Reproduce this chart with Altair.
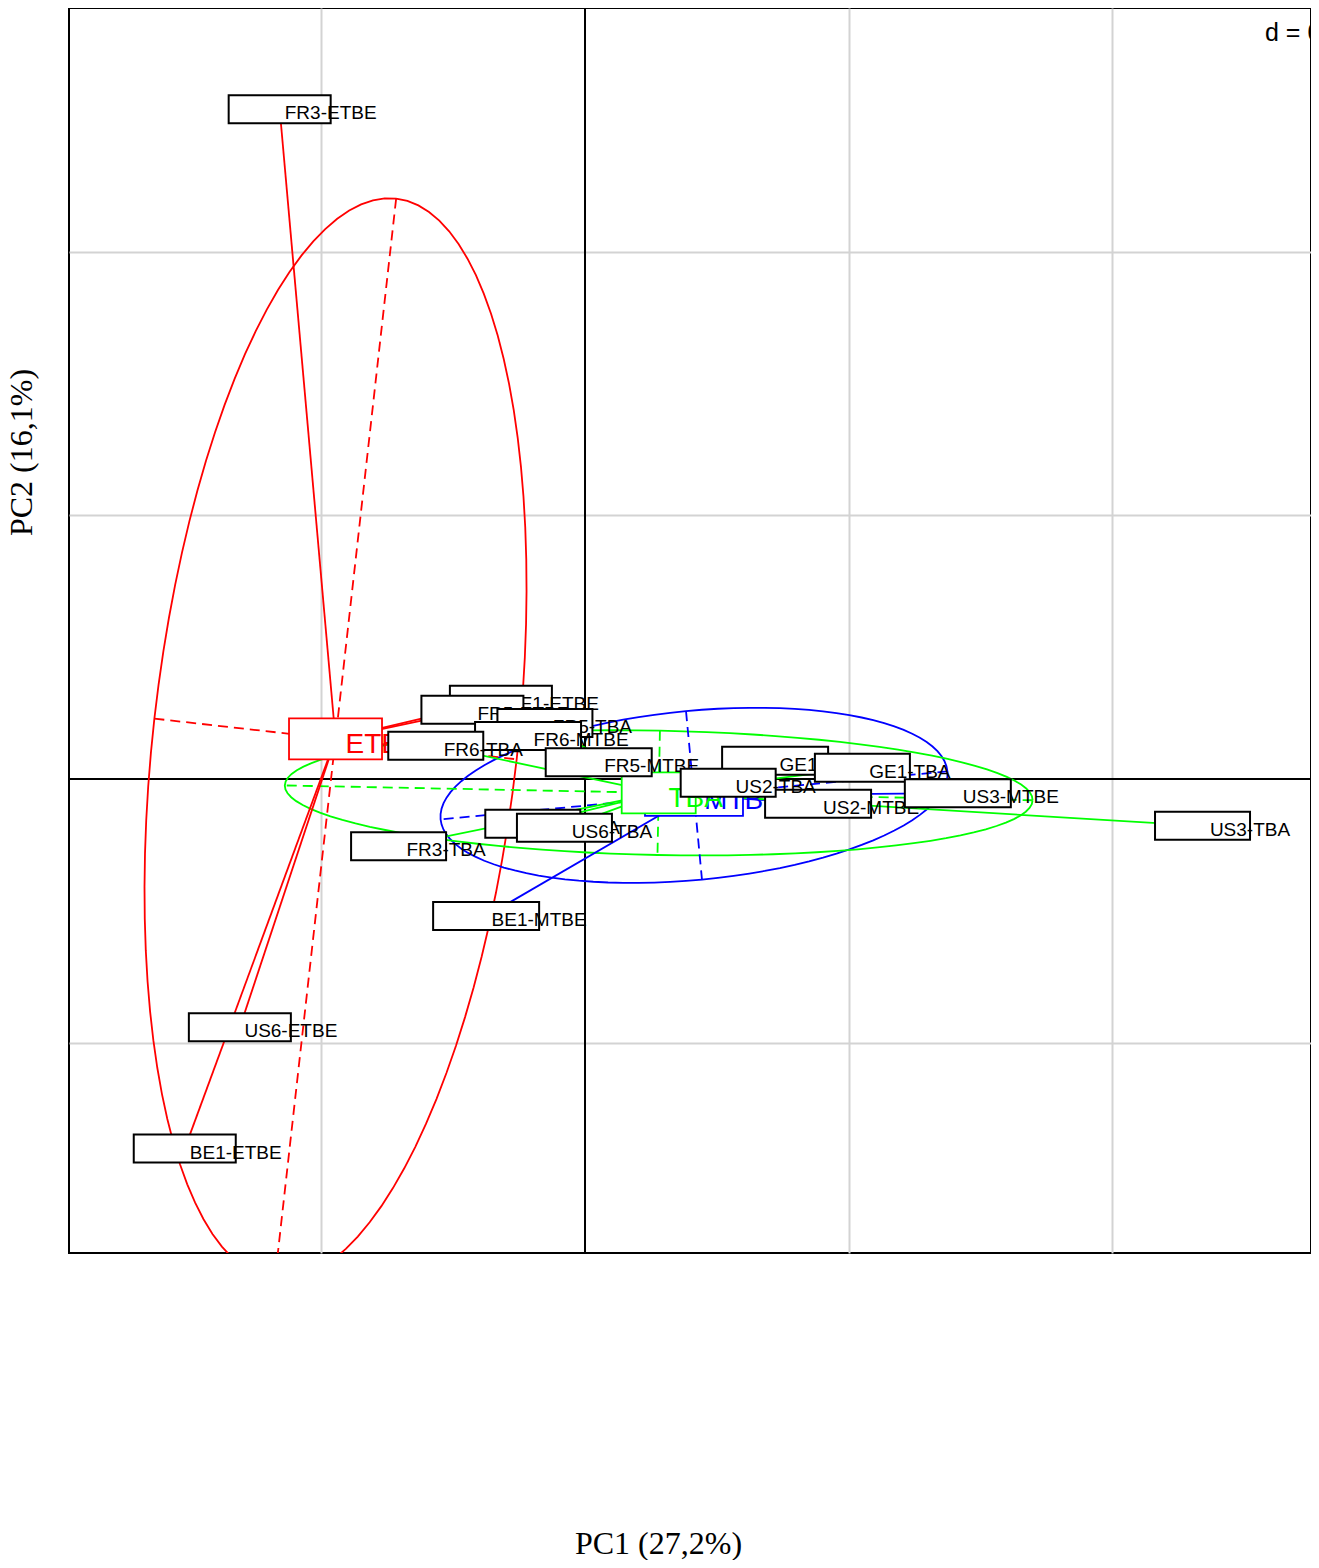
import altair as alt
import numpy as np
import pandas as pd

# ---- data (PC1 / PC2 scores, in grid units of d) ----
labels = ["FR3-ETBE", "US6-ETBE", "BE1-ETBE", "GE1-ETBE", "FR5-ETBE",
          "FR5-TBA", "FR6-MTBE", "FR6-TBA", "FR5-MTBE", "FR3-TBA",
          "BE1-TBA", "US6-TBA", "BE1-MTBE", "GE1-MTBE", "GE1-TBA",
          "US2-MTBE", "US2-TBA", "US3-MTBE", "US3-TBA"]
pc1 = [-1.158, -1.309, -1.518, -0.319, -0.427,
       -0.152, -0.216, -0.566, 0.052, -0.707,
       -0.198, -0.078, -0.375, 0.721, 1.052,
       0.884, 0.543, 1.414, 2.342]
pc2 = [2.540, -0.942, -1.402, 0.300, 0.262,
       0.212, 0.163, 0.126, 0.063, -0.255,
       -0.170, -0.185, -0.520, 0.069, 0.042,
       -0.094, -0.014, -0.054, -0.178]
classes = ["ETBE", "MTBE", "TBA"]
class_colors = ["#FF0000", "#0000FF", "#00FF00"]
x_title = "PC1 (27,2%)"
y_title = "PC2 (16,1%)"
grid_text = "d = 0.5"
grid_ticks = [-1, 1, 2]

# ---- derived tables ----
pts = pd.DataFrame({"label": labels, "x": pc1, "y": pc2})
pts["group"] = pts["label"].str.split("-").str[1]

cent = pts.groupby("group")[["x", "y"]].mean().reindex(classes).reset_index()


def ade4_ellipse(xs, ys, coeff=1.5, lig=100):
    mx, my = xs.mean(), ys.mean()
    vx = ((xs - mx) ** 2).mean()
    vy = ((ys - my) ** 2).mean()
    cxy = ((xs - mx) * (ys - my)).mean()
    delta = np.sqrt((vx - vy) ** 2 + 4 * cxy * cxy)
    l1 = (vx + vy + delta) / 2
    l2 = vx + vy - l1
    l1 = np.sqrt(max(l1, 0))
    l2 = np.sqrt(max(l2, 0))
    a0 = 1.0
    b0 = (l1 * l1 - vx) / cxy
    nrm = np.hypot(a0, b0)
    a0, b0 = a0 / nrm, b0 / nrm
    c11 = coeff * a0 * l1
    c12 = -coeff * b0 * l2
    c21 = coeff * b0 * l1
    c22 = coeff * a0 * l2
    ang = 2 * np.pi * np.arange(lig + 1) / lig
    ex = mx + c11 * np.cos(ang) + c12 * np.sin(ang)
    ey = my + c21 * np.cos(ang) + c22 * np.sin(ang)
    seg1 = [(mx + c11, my + c21), (mx - c11, my - c21)]
    seg2 = [(mx + c12, my + c22), (mx - c12, my - c22)]
    return ex, ey, seg1, seg2


ell_rows, seg_rows, star_rows = [], [], []
for g in classes:
    sub = pts[pts.group == g]
    ex, ey, s1, s2 = ade4_ellipse(sub.x.values, sub.y.values)
    for i, (a, b) in enumerate(zip(ex, ey)):
        ell_rows.append({"group": g, "i": i, "x": a, "y": b})
    for k, seg in enumerate([s1, s2]):
        for j, (a, b) in enumerate(seg):
            seg_rows.append({"group": g, "seg": f"{g}{k}", "i": j, "x": a, "y": b})
    c = cent[cent.group == g].iloc[0]
    for _, r in sub.iterrows():
        star_rows.append({"group": g, "label": r.label, "i": 0, "x": c.x, "y": c.y})
        star_rows.append({"group": g, "label": r.label, "i": 1, "x": r.x, "y": r.y})
ell = pd.DataFrame(ell_rows)
segs = pd.DataFrame(seg_rows)
stars = pd.DataFrame(star_rows)

# ---- scales / axes ----
xscale = alt.Scale(domain=[-1.957, 2.7534], nice=False, zero=False)
yscale = alt.Scale(domain=[-1.798, 2.924], nice=False, zero=False)
xaxis = alt.Axis(values=grid_ticks, grid=True, labels=False, ticks=False, domain=False,
                 gridColor="#d3d3d3", gridWidth=2, title=x_title,
                 titleFont="Liberation Serif", titleFontSize=32, titleFontWeight="normal",
                 titleColor="black", titleX=589, titleY=290, titleAlign="center",
                 titleBaseline="middle")
yaxis = alt.Axis(values=grid_ticks, grid=True, labels=False, ticks=False, domain=False,
                 gridColor="#d3d3d3", gridWidth=2, title=y_title,
                 titleFont="Liberation Serif", titleFontSize=32, titleFontWeight="normal",
                 titleColor="black", titleX=-48, titleY=444, titleAlign="center",
                 titleBaseline="middle", titleAngle=270)
X = alt.X("x:Q", scale=xscale, axis=xaxis)
Y = alt.Y("y:Q", scale=yscale, axis=yaxis)
col = alt.Color("group:N", scale=alt.Scale(domain=classes, range=class_colors), legend=None)

LW = 1.8
layers = []
layers.append(alt.Chart(pd.DataFrame({"x": [0.0]})).mark_rule(color="black", strokeWidth=2)
              .encode(x=X))
layers.append(alt.Chart(pd.DataFrame({"y": [0.0]})).mark_rule(color="black", strokeWidth=2)
              .encode(y=Y))
layers.append(alt.Chart(ell).mark_line(strokeWidth=LW, clip=True)
              .encode(x=X, y=Y, color=col, detail="group:N", order="i:Q"))
layers.append(alt.Chart(segs).mark_line(strokeWidth=LW, strokeDash=[10, 6], clip=True)
              .encode(x=X, y=Y, color=col, detail="seg:N", order="i:Q"))
layers.append(alt.Chart(stars).mark_line(strokeWidth=LW, clip=True)
              .encode(x=X, y=Y, color=col, detail="label:N", order="i:Q"))

# class labels
class_box_w = {"ETBE": 93, "TBA": 74, "MTBE": 98}
for g, c in zip(classes, class_colors):
    w = class_box_w[g]
    base = alt.Chart(cent).transform_filter(alt.datum.group == g)
    layers.append(base.mark_rect(fill="white", stroke=c, strokeWidth=1.8,
                                 xOffset=-w / 2, x2Offset=w / 2, yOffset=-20.5, y2Offset=20.5)
                  .encode(x=X, x2=alt.X2("x"), y=Y, y2=alt.Y2("y")))
    layers.append(base.mark_text(align="center", baseline="alphabetic", dx=w / 2, dy=14,
                                 fontSize=28, font="Liberation Sans", color=c)
                  .encode(x=X, y=Y, text="group:N"))

# point labels
box_w = {"ETBE": 102, "TBA": 95, "MTBE": 106}
for lab in labels:
    w = box_w[lab.split("-")[1]]
    base = alt.Chart(pts).transform_filter(alt.datum.label == lab)
    layers.append(base.mark_rect(fill="white", stroke="black", strokeWidth=2,
                                 xOffset=-w / 2, x2Offset=w / 2, yOffset=-14, y2Offset=14)
                  .encode(x=X, x2=alt.X2("x"), y=Y, y2=alt.Y2("y")))
    layers.append(base.mark_text(align="center", baseline="alphabetic", dx=w / 2, dy=10,
                                 fontSize=19, font="Liberation Sans", color="black")
                  .encode(x=X, y=Y, text="label:N"))

# grid size label (top right, clipped by frame)
layers.append(alt.Chart(pd.DataFrame({"x": [2.579], "y": [2.80], "t": [grid_text]}))
              .mark_text(align="left", baseline="alphabetic", fontSize=25,
                         font="Liberation Sans", color="black", clip=True)
              .encode(x=X, y=Y, text="t:N"))

chart = alt.layer(*layers).properties(
    width=1242, height=1245,
    autosize=alt.AutoSizeParams(type="none"),
    padding={"left": 61, "top": 0, "right": 0, "bottom": 307},
).configure_view(stroke="black", strokeWidth=2)

chart.save("out.html", embed_options={"renderer": "svg", "actions": False})
